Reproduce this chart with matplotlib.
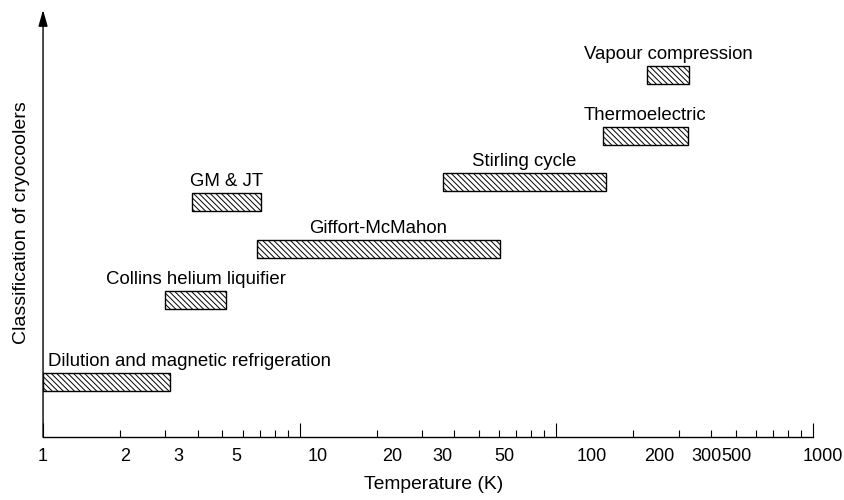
#plotting the temperature range of each kind of cryocooler
import numpy as np
import matplotlib.pyplot as plt

#names of the cryocoolers, from bottom bar upwards
coolers = ["Dilution and magnetic refrigeration", "Collins helium liquifier",
           "GM & JT", "Giffort-McMahon", "Stirling cycle",
           "Thermoelectric", "Vapour compression"]
#coldest and warmest temperature of each range (K)
t_low = [1.0, 3.0, 3.8, 6.8, 36.3, 152, 226]
t_high = [3.12, 5.15, 7.1, 60.3, 156, 326, 329]
#vertical level of each bar (no real unit, just the order on the chart)
level = [5.5, 13.7, 23.5, 18.8, 25.5, 30.1, 36.2]

#labels under the temperature axis and the temperature they sit at
tick_text = ["1", "2", "3", "5", "10", "20", "30", "50", "100", "200", "300", "500", "1000"]
tick_at = [1.0, 2.09, 3.36, 5.65, 11.8, 22.9, 36.0, 63.0, 138, 252, 386, 504, 1096]

plt.rcParams['font.family'] = ['Liberation Sans', 'DejaVu Sans']
plt.rcParams['font.size'] = 13
plt.rcParams['hatch.linewidth'] = 0.7


def bars(ax):
    bar_h = 1.85
    for name, lo, hi, y in zip(coolers, t_low, t_high, level):
        ax.barh(y, hi - lo, left=lo, height=bar_h, color='white',
                edgecolor='black', hatch='\\' * 6, linewidth=1.0)
        #the first label starts at the left edge, the others sit over the middle of the bar
        if lo <= 1:
            ax.text(lo * 1.046, y + bar_h / 2 + 0.7, name, ha='left', va='baseline', fontsize=13.4)
        else:
            ax.text(np.sqrt(lo * hi), y + bar_h / 2 + 0.7, name, ha='center', va='baseline',
                    fontsize=13.4)


def axes_style(ax):
    ax.set_xscale('log')
    ax.set_xlim(1, 1000)
    ax.set_ylim(0, 42.7)
    ax.set_yticks([])
    for side in ['top', 'right', 'left']:
        ax.spines[side].set_visible(False)
    ax.spines['bottom'].set_linewidth(1.0)
    ax.set_xticks([1, 10, 100, 1000])
    ax.tick_params(which='major', direction='in', length=10, width=0.8, labelbottom=False)
    ax.tick_params(which='minor', direction='in', length=5, width=0.8, labelbottom=False)
    #tick labels written by hand, they do not sit right on the ticks in the original
    for t, s in zip(tick_at, tick_text):
        ax.text(t, -0.0445, s, transform=ax.get_xaxis_transform(),
                ha='center', va='center', clip_on=False)
    ax.set_xlabel("Temperature (K)", va='center', fontsize=13.9)
    ax.xaxis.set_label_coords(0.508, -0.112)
    ax.set_ylabel("Classification of cryocoolers", va='center', fontsize=14)
    ax.yaxis.set_label_coords(-0.0286, 0.503)
    #y axis drawn as an arrow
    ax.annotate('', xy=(0, 1), xycoords='axes fraction', xytext=(0, 0), textcoords='axes fraction',
                arrowprops=dict(arrowstyle='-|>,head_length=0.7,head_width=0.2', color='black',
                                lw=1.0, mutation_scale=14, shrinkA=0, shrinkB=0))


def run():
    fig = plt.figure(figsize=(8.44, 5), dpi=100)
    ax = fig.add_axes([0.051, 0.126, 0.912, 0.854])
    bars(ax)
    axes_style(ax)
    fig.savefig('out.png', dpi=100)


if __name__ == "__main__":
    run()
